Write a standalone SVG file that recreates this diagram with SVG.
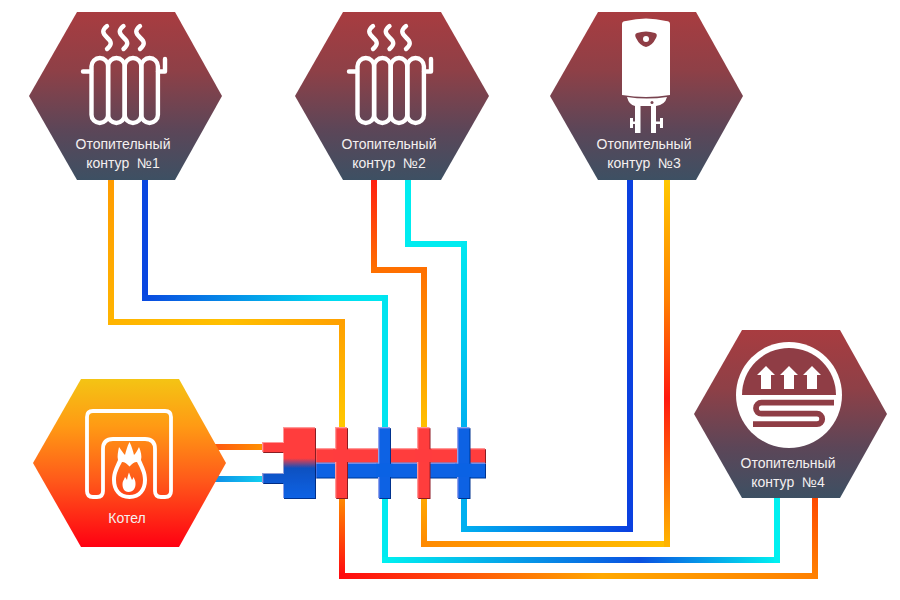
<svg xmlns="http://www.w3.org/2000/svg" width="900" height="600" viewBox="0 0 900 600">
<style>
text{font-family:"Liberation Sans",Arial,sans-serif;font-size:14px;fill:#f4f0f0;text-anchor:middle;white-space:pre}
.p{fill:none;stroke-width:6;stroke-linecap:square}
.ic{fill:none;stroke:#fff;stroke-width:4.4;stroke-linecap:round;stroke-linejoin:round}
.dk{fill:#8f3d45}
</style>
<defs>
<linearGradient id="hex" x1="0" y1="0" x2="0" y2="1"><stop offset="0" stop-color="#a83c40"/><stop offset=".35" stop-color="#8e4047"/><stop offset=".7" stop-color="#5c4658"/><stop offset="1" stop-color="#3d5063"/></linearGradient>
<linearGradient id="hexk" x1="0" y1="0" x2="0" y2="1"><stop offset="0" stop-color="#f4c414"/><stop offset=".28" stop-color="#ff9a14"/><stop offset=".6" stop-color="#ff5a1a"/><stop offset="1" stop-color="#ff0012"/></linearGradient>
<linearGradient id="a1" gradientUnits="userSpaceOnUse" x1="0" y1="180" x2="0" y2="322"><stop offset="0" stop-color="#ff9c00"/><stop offset="1" stop-color="#ffb400"/></linearGradient>
<linearGradient id="a2" gradientUnits="userSpaceOnUse" x1="111" y1="0" x2="342" y2="0"><stop offset="0" stop-color="#ffb400"/><stop offset=".5" stop-color="#ffc000"/><stop offset="1" stop-color="#ffa000"/></linearGradient>
<linearGradient id="a3" gradientUnits="userSpaceOnUse" x1="0" y1="322" x2="0" y2="427"><stop offset="0" stop-color="#ffa000"/><stop offset="1" stop-color="#ffc800"/></linearGradient>
<linearGradient id="a4" gradientUnits="userSpaceOnUse" x1="0" y1="498" x2="0" y2="576"><stop offset="0" stop-color="#ff8a00"/><stop offset="1" stop-color="#ff0a10"/></linearGradient>
<linearGradient id="a5" gradientUnits="userSpaceOnUse" x1="342" y1="0" x2="815" y2="0"><stop offset="0" stop-color="#ff0a10"/><stop offset=".55" stop-color="#ffa800"/><stop offset="1" stop-color="#ff8000"/></linearGradient>
<linearGradient id="a6" gradientUnits="userSpaceOnUse" x1="0" y1="576" x2="0" y2="498"><stop offset="0" stop-color="#ff8000"/><stop offset="1" stop-color="#ff4a00"/></linearGradient>
<linearGradient id="b1" gradientUnits="userSpaceOnUse" x1="145" y1="0" x2="385" y2="0"><stop offset="0" stop-color="#0a4ae0"/><stop offset=".75" stop-color="#00d8f0"/><stop offset="1" stop-color="#00e8f0"/></linearGradient>
<linearGradient id="b2" gradientUnits="userSpaceOnUse" x1="385" y1="0" x2="777" y2="0"><stop offset="0" stop-color="#00f0f0"/><stop offset=".65" stop-color="#0a50e0"/><stop offset="1" stop-color="#00f0f0"/></linearGradient>
<linearGradient id="c1" gradientUnits="userSpaceOnUse" x1="0" y1="180" x2="0" y2="270"><stop offset="0" stop-color="#ff2010"/><stop offset="1" stop-color="#ff7000"/></linearGradient>
<linearGradient id="c2" gradientUnits="userSpaceOnUse" x1="0" y1="270" x2="0" y2="427"><stop offset="0" stop-color="#ff7000"/><stop offset="1" stop-color="#ffc000"/></linearGradient>
<linearGradient id="c3" gradientUnits="userSpaceOnUse" x1="424" y1="0" x2="667" y2="0"><stop offset="0" stop-color="#ff8a00"/><stop offset="1" stop-color="#ffc000"/></linearGradient>
<linearGradient id="c4" gradientUnits="userSpaceOnUse" x1="0" y1="180" x2="0" y2="544"><stop offset="0" stop-color="#ffc800"/><stop offset=".33" stop-color="#ff8000"/><stop offset=".6" stop-color="#ff1a10"/><stop offset="1" stop-color="#ffb400"/></linearGradient>
<linearGradient id="c5" gradientUnits="userSpaceOnUse" x1="0" y1="498" x2="0" y2="544"><stop offset="0" stop-color="#ffa800"/><stop offset="1" stop-color="#ff8a00"/></linearGradient>
<linearGradient id="d1" gradientUnits="userSpaceOnUse" x1="0" y1="244" x2="0" y2="427"><stop offset="0" stop-color="#00e8f0"/><stop offset="1" stop-color="#00b0f0"/></linearGradient>
<linearGradient id="d2" gradientUnits="userSpaceOnUse" x1="464" y1="0" x2="630" y2="0"><stop offset="0" stop-color="#00b0f0"/><stop offset="1" stop-color="#0a40e0"/></linearGradient>
<linearGradient id="e1" gradientUnits="userSpaceOnUse" x1="217" y1="0" x2="262" y2="0"><stop offset="0" stop-color="#ff5a10"/><stop offset="1" stop-color="#ff9000"/></linearGradient>
<linearGradient id="e2" gradientUnits="userSpaceOnUse" x1="217" y1="0" x2="262" y2="0"><stop offset="0" stop-color="#1090e8"/><stop offset="1" stop-color="#10d0f0"/></linearGradient>
<linearGradient id="blk" gradientUnits="userSpaceOnUse" x1="0" y1="427" x2="0" y2="498"><stop offset="0" stop-color="#ff3c3e"/><stop offset=".44" stop-color="#ff3c3e"/><stop offset=".58" stop-color="#0a50c0"/><stop offset=".75" stop-color="#0a58d0"/><stop offset="1" stop-color="#0a62e4"/></linearGradient>
<filter id="bev" x="-10%" y="-10%" width="120%" height="120%">
<feOffset in="SourceGraphic" dx="1.2" dy="1.2" result="o"/>
<feColorMatrix in="o" type="matrix" values=".25 0 0 0 0 0 .25 0 0 0 0 0 .35 0 0 0 0 0 1 0" result="sh"/>
<feOffset in="SourceAlpha" dx="1.2" dy="1.2" result="oa"/>
<feComposite in="SourceAlpha" in2="oa" operator="out" result="edge"/>
<feFlood flood-color="#fff" flood-opacity=".28"/>
<feComposite in2="edge" operator="in" result="hl"/>
<feMerge><feMergeNode in="sh"/><feMergeNode in="SourceGraphic"/><feMergeNode in="hl"/></feMerge>
</filter>
<g id="rad">
<path class="ic" stroke-width="4.800" d="M107 26c-5 4-5 7 0 11.500s5 7 0 11.500M123.500 26c-5 4-5 7 0 11.500s5 7 0 11.500M140 26c-5 4-5 7 0 11.500s5 7 0 11.500"/>
<rect class="ic" x="91.500" y="58" width="16.600" height="65" rx="8.300"/>
<rect class="ic" x="108.100" y="58" width="16.600" height="65" rx="8.300"/>
<rect class="ic" x="124.700" y="58" width="16.600" height="65" rx="8.300"/>
<rect class="ic" x="141.300" y="58" width="16.600" height="65" rx="8.300"/>
<path class="ic" d="M83 71.500H91M158 71.500H165V59"/>
</g>
</defs>

<g id="connectors">
<path class="p" stroke="url(#a1)" d="M111 180V322"/><path class="p" stroke="url(#a2)" d="M111 322H342"/><path class="p" stroke="url(#a3)" d="M342 322V427"/>
<path class="p" stroke="url(#a4)" d="M342 498V576"/><path class="p" stroke="url(#a5)" d="M342 576H815"/><path class="p" stroke="url(#a6)" d="M815 576V498"/>
<path class="p" stroke="#0a46e0" d="M145 180V298"/><path class="p" stroke="url(#b1)" d="M145 298H385"/><path class="p" stroke="#00e4f0" d="M385 298V427"/>
<path class="p" stroke="#00eaf0" d="M385 498V560"/><path class="p" stroke="url(#b2)" d="M385 560H777"/><path class="p" stroke="#00f0f0" d="M777 560V498"/>
<path class="p" stroke="url(#c1)" d="M374 180V270"/><path class="p" stroke="#ff7000" d="M374 270H424"/><path class="p" stroke="url(#c2)" d="M424 270V427"/>
<path class="p" stroke="url(#c5)" d="M424 498V544"/><path class="p" stroke="url(#c3)" d="M424 544H667"/><path class="p" stroke="url(#c4)" d="M667 544V180"/>
<path class="p" stroke="#00ecf0" d="M408 180V244H464"/><path class="p" stroke="url(#d1)" d="M464 244V427"/>
<path class="p" stroke="#00b0f0" d="M464 498V529"/><path class="p" stroke="url(#d2)" d="M464 529H630"/><path class="p" stroke="#0a40e0" d="M630 529V180"/>
<path class="p" stroke="url(#e1)" stroke-linecap="butt" d="M217 447H262"/><path class="p" stroke="url(#e2)" stroke-linecap="butt" d="M217 479H262"/>
</g>

<g id="node1">
<polygon fill="url(#hex)" points="77,12 175,12 222,96 175,180 77,180 29,96"/>
<use href="#rad"/>
<text x="123" y="149">Отопительный</text><text x="123" y="168">контур  №1</text>
</g>
<g id="node2">
<polygon fill="url(#hex)" points="343,12 441,12 489,96 441,180 343,180 295,96"/>
<use href="#rad" x="266"/>
<text x="389" y="149">Отопительный</text><text x="389" y="168">контур  №2</text>
</g>
<g id="node3">
<polygon fill="url(#hex)" points="598,12 696,12 743,96 696,180 598,180 550,96"/>
<path fill="#fff" d="M622 24Q622 21 626 21Q646 16 666 21Q670 21 670 24V95Q646 99 622 95Z"/>
<path fill="#fff" d="M627 97Q647 100 667 97Q665 105 656 106V133H651V106H640.500V133H635V106Q629 105 627 97Z"/>
<path fill="#fff" d="M633 121.500H636V124H633ZM630 118H633V128H630ZM655 121.500H661V124H655ZM660 118H663V128H660Z"/>
<path class="dk" d="M637 33Q646 30 655 33Q658 34 656 38Q652 46 646 47Q640 46 636 38Q634 34 637 33Z"/>
<circle cx="646" cy="39" r="3" fill="#fff"/><circle cx="652" cy="102.500" r="1.500" fill="#7a4450"/>
<text x="644" y="149">Отопительный</text><text x="644" y="168">контур  №3</text>
</g>
<g id="node4">
<polygon fill="url(#hex)" points="742,330 840,330 887,414 840,498 742,498 694,414"/>
<circle cx="789" cy="395" r="53" fill="#fff"/>
<path class="dk" d="M742 395A47 47 0 0 1 836 395Z"/>
<path fill="#fff" d="M766 366L775 375H771V389H761V375H757ZM789 366L798 375H794V389H784V375H780ZM812 366L821 375H817V389H807V375H803Z"/>
<path fill="none" stroke="#8f3d45" stroke-width="5.800" d="M834 402.700H761.500A5.500 5.500 0 0 0 761.500 413.700H817A5.200 5.200 0 0 1 817 424.100H753"/>
<text x="788" y="468">Отопительный</text><text x="788" y="487">контур  №4</text>
</g>
<g id="kotel">
<polygon fill="url(#hexk)" points="81,379 179,379 226,463 179,547 81,547 33,463"/>
<path fill="none" stroke="#fff" stroke-width="3.800" stroke-linejoin="round" d="M87 417Q87 411 93 411H165Q171 411 171 417V491Q171 497 165 497H161Q155 497 155 491V449Q155 439 145 439H113Q103 439 103 449V491Q103 497 97 497H93Q87 497 87 491Z"/>
<path fill="#fff" fill-rule="evenodd" d="M129.500 499C118 499 112 490 112 480C112 472 115 467 118 460C117 456 118 452 119 447C122 451 123 453 125 455C126 451 127 447 129.500 442C132 447 133 451 134 455C136 453 137 451 139 447C141 452 142 456 141 460C144 467 147 472 147 480C147 490 141 499 129.500 499ZM129.500 495C138 495 143 489 143 480C143 473 140 468 137 462C134 462 132 464 129.500 466.500C127 464 125 462 122 462C119 468 116 473 116 480C116 489 121 495 129.500 495Z"/>
<path fill="#fff" d="M128.500 492C124 492 122.500 488 122.500 484C122.500 481 124 480 125 477C126 478 126.500 479 127 480C127.500 477 128 475 129 472.500C130 475 131 478 132 480C133 479 133 478 133.500 477C135 480 135.500 481 135.500 484C135.500 488 133.500 492 128.500 492Z"/>
<text x="127" y="523">Котел</text>
</g>
<g id="manifold">
<rect x="315" y="448" width="170" height="14.500" fill="#ff3c3e" filter="url(#bev)"/>
<rect x="315" y="462.500" width="170" height="15" fill="#0a62e4" filter="url(#bev)"/>
<path fill="url(#blk)" filter="url(#bev)" d="M283 427H315V498H283V483H262V473H283V452H262V442H283Z"/>
<rect x="335" y="427" width="12" height="71" fill="#ff3c3e" filter="url(#bev)"/>
<rect x="378" y="427" width="12" height="71" fill="#0a62e4" filter="url(#bev)"/>
<rect x="417" y="427" width="12.500" height="71" fill="#ff3c3e" filter="url(#bev)"/>
<rect x="457" y="427" width="12.500" height="71" fill="#0a62e4" filter="url(#bev)"/>
<path fill="#ff3c3e" d="M333 449.200H349.500V462H333ZM415 449.200H432V462H415Z"/>
<path fill="#0a62e4" d="M376 463.700H392.500V477H376ZM455 463.700H472V477H455Z"/>
</g>
</svg>
